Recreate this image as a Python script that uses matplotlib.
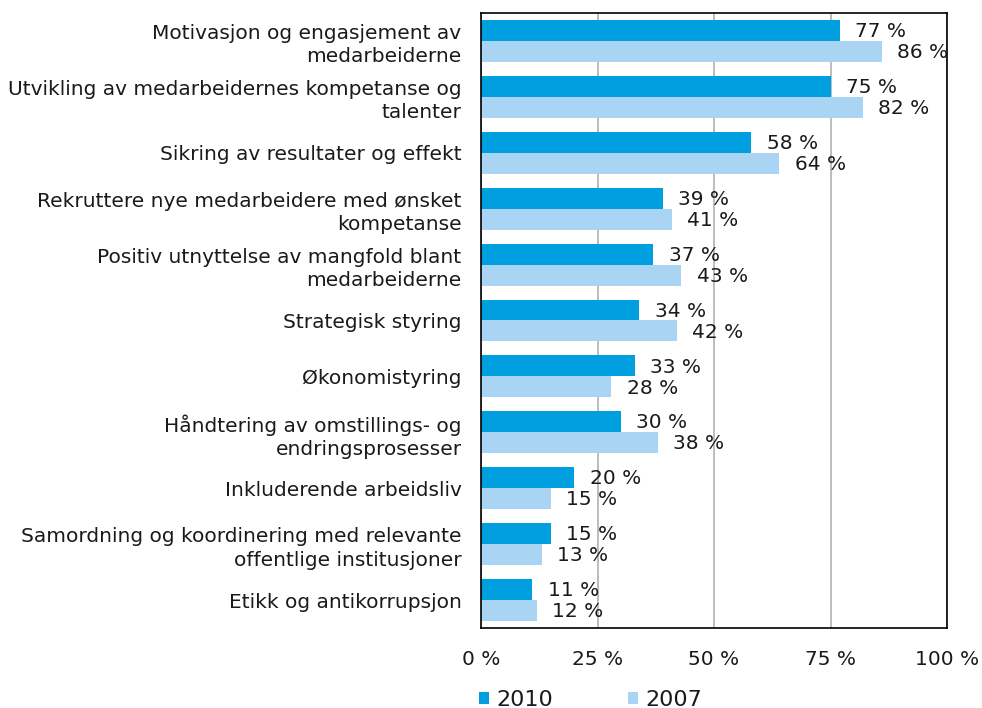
import matplotlib
matplotlib.use("Agg")
import matplotlib.pyplot as plt
import numpy as np

categories = [
    "Motivasjon og engasjement av\nmedarbeiderne",
    "Utvikling av medarbeidernes kompetanse og\ntalenter",
    "Sikring av resultater og effekt",
    "Rekruttere nye medarbeidere med ønsket\nkompetanse",
    "Positiv utnyttelse av mangfold blant\nmedarbeiderne",
    "Strategisk styring",
    "Økonomistyring",
    "Håndtering av omstillings- og\nendringsprosesser",
    "Inkluderende arbeidsliv",
    "Samordning og koordinering med relevante\noffentlige institusjoner",
    "Etikk og antikorrupsjon",
]
values_2010 = [77, 75, 58, 39, 37, 34, 33, 30, 20, 15, 11]
values_2007 = [86, 82, 64, 41, 43, 42, 28, 38, 15, 13, 12]
xticks = [0, 25, 50, 75, 100]
xtick_labels = ["0 %", "25 %", "50 %", "75 %", "100 %"]

c2010 = "#009fe0"
c2007 = "#a9d4f3"

fig = plt.figure(figsize=(9.82, 7.08), dpi=100)
ax = fig.add_axes([481/982, 1-628/708, 466/982, 615/708])

n = len(categories)
y = np.arange(n)
h = 0.375
ax.barh(y - h/2, values_2010, height=h, color=c2010, label="2010", zorder=2)
ax.barh(y + h/2, values_2007, height=h, color=c2007, label="2007", zorder=2)

fs = 14.5
tc = "#1a1a1a"
for yi, v in zip(y, values_2010):
    ax.text(v + 3.3, yi - h/2 + 0.02, f"{v} %", va="center", ha="left", fontsize=fs, color=tc)
for yi, v in zip(y, values_2007):
    ax.text(v + 3.3, yi + h/2 + 0.02, f"{v} %", va="center", ha="left", fontsize=fs, color=tc)

ax.set_ylim(n - 0.5, -0.5)
ax.set_xlim(0, 100)
ax.set_yticks(y)
ax.set_yticklabels(categories, fontsize=fs, ha="right", color=tc, linespacing=1.3)
ax.set_xticks(xticks)
ax.set_xticklabels(xtick_labels, fontsize=fs, color=tc)
ax.tick_params(axis="y", length=0, pad=14)
ax.tick_params(axis="x", length=0, pad=16)
ax.grid(axis="x", color="#b0b0b0", linewidth=1.2, zorder=0)
for s in ax.spines.values():
    s.set_color("black")
    s.set_linewidth(1.2)

leg = fig.legend(loc="lower left", bbox_to_anchor=(466/982, -0.021), ncol=2, frameon=False,
                 fontsize=16, handlelength=0.45, handleheight=0.45, handletextpad=0.3,
                 columnspacing=3.4, borderaxespad=0.2)
for t in leg.get_texts():
    t.set_color(tc)

fig.savefig("out.png", dpi=100)
